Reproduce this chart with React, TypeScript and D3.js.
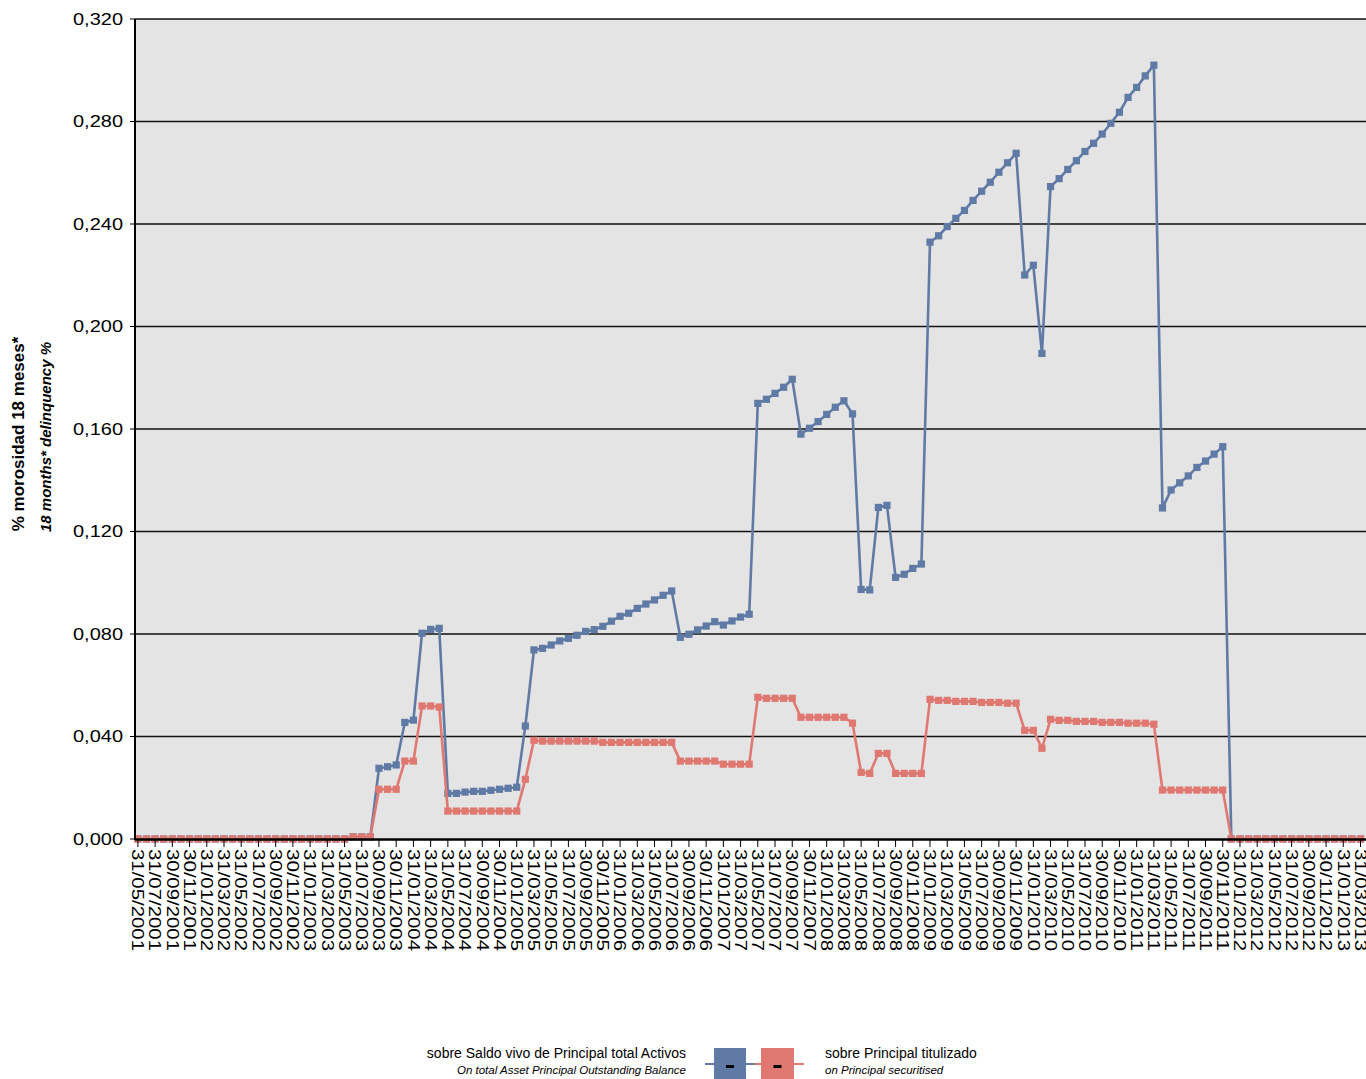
import React from "react";
import * as d3 from "d3";

// month-end reporting dates, one per point
const DATES = (
  "31/05/2001 30/06/2001 31/07/2001 31/08/2001 30/09/2001 31/10/2001 30/11/2001 31/12/2001 " +
  "31/01/2002 28/02/2002 31/03/2002 30/04/2002 31/05/2002 30/06/2002 31/07/2002 31/08/2002 30/09/2002 31/10/2002 30/11/2002 31/12/2002 " +
  "31/01/2003 28/02/2003 31/03/2003 30/04/2003 31/05/2003 30/06/2003 31/07/2003 31/08/2003 30/09/2003 31/10/2003 30/11/2003 31/12/2003 " +
  "31/01/2004 29/02/2004 31/03/2004 30/04/2004 31/05/2004 30/06/2004 31/07/2004 31/08/2004 30/09/2004 31/10/2004 30/11/2004 31/12/2004 " +
  "31/01/2005 28/02/2005 31/03/2005 30/04/2005 31/05/2005 30/06/2005 31/07/2005 31/08/2005 30/09/2005 31/10/2005 30/11/2005 31/12/2005 " +
  "31/01/2006 28/02/2006 31/03/2006 30/04/2006 31/05/2006 30/06/2006 31/07/2006 31/08/2006 30/09/2006 31/10/2006 30/11/2006 31/12/2006 " +
  "31/01/2007 28/02/2007 31/03/2007 30/04/2007 31/05/2007 30/06/2007 31/07/2007 31/08/2007 30/09/2007 31/10/2007 30/11/2007 31/12/2007 " +
  "31/01/2008 29/02/2008 31/03/2008 30/04/2008 31/05/2008 30/06/2008 31/07/2008 31/08/2008 30/09/2008 31/10/2008 30/11/2008 31/12/2008 " +
  "31/01/2009 28/02/2009 31/03/2009 30/04/2009 31/05/2009 30/06/2009 31/07/2009 31/08/2009 30/09/2009 31/10/2009 30/11/2009 31/12/2009 " +
  "31/01/2010 28/02/2010 31/03/2010 30/04/2010 31/05/2010 30/06/2010 31/07/2010 31/08/2010 30/09/2010 31/10/2010 30/11/2010 31/12/2010 " +
  "31/01/2011 28/02/2011 31/03/2011 30/04/2011 31/05/2011 30/06/2011 31/07/2011 31/08/2011 30/09/2011 31/10/2011 30/11/2011 31/12/2011 " +
  "31/01/2012 29/02/2012 31/03/2012 30/04/2012 31/05/2012 30/06/2012 31/07/2012 31/08/2012 30/09/2012 31/10/2012 30/11/2012 31/12/2012 " +
  "31/01/2013 28/02/2013 31/03/2013"
).split(" ");

// sobre Saldo vivo de Principal total Activos
const totalActivos = [
  0, 0, 0, 0, 0, 0, 0, 0, 0, 0, 0, 0, 0, 0, 0, 0, 0, 0, 0, 0, 0, 0, 0, 0, 0,
  0.0008, 0.0008, 0.0008,
  0.0276, 0.0282, 0.0289, 0.0455, 0.0464, 0.0803, 0.0818, 0.0822,
  0.0178, 0.0178, 0.0183, 0.0186, 0.0186, 0.019, 0.0194, 0.0198, 0.0202,
  0.0441, 0.0738, 0.0744, 0.0757, 0.0773, 0.0783, 0.0795, 0.081, 0.0817,
  0.083, 0.085, 0.0869, 0.0881, 0.09, 0.0917, 0.0933, 0.0951, 0.0968,
  0.0787, 0.0799, 0.0816, 0.0831, 0.0848, 0.0835, 0.0851, 0.0866, 0.0877,
  0.17, 0.1716, 0.1739, 0.1763, 0.1794, 0.158, 0.1603, 0.1629, 0.1657,
  0.1685, 0.171, 0.1659, 0.0974, 0.0972, 0.1294, 0.1302, 0.1021, 0.1033,
  0.1056, 0.1073, 0.2329, 0.2354, 0.239, 0.2422, 0.2453, 0.2492, 0.2528,
  0.2563, 0.2602, 0.2639, 0.2676, 0.2201, 0.2239, 0.1895, 0.2546, 0.2577,
  0.2613, 0.2647, 0.2683, 0.2715, 0.2751, 0.2793, 0.2836, 0.2894, 0.2933,
  0.2978, 0.302, 0.1292, 0.1362, 0.139, 0.1417, 0.145, 0.1475, 0.1502, 0.1531,
  0, 0, 0, 0, 0, 0, 0, 0, 0, 0, 0, 0, 0, 0, 0, 0,
];

// sobre Principal titulizado
const titulizado = [
  0, 0, 0, 0, 0, 0, 0, 0, 0, 0, 0, 0, 0, 0, 0, 0, 0, 0, 0, 0, 0, 0, 0, 0, 0,
  0.0008, 0.0008, 0.0008,
  0.0194, 0.0194, 0.0194, 0.0304, 0.0304, 0.0519, 0.0519, 0.0515,
  0.0109, 0.0109, 0.0109, 0.0109, 0.0109, 0.0109, 0.0109, 0.0109, 0.0109,
  0.0233, 0.0385, 0.0382, 0.0382, 0.0382, 0.0382, 0.0382, 0.0382, 0.0382,
  0.0377, 0.0377, 0.0377, 0.0377, 0.0377, 0.0377, 0.0377, 0.0377, 0.0377,
  0.0304, 0.0304, 0.0304, 0.0304, 0.0304, 0.0292, 0.0292, 0.0292, 0.0292,
  0.0553, 0.0549, 0.0549, 0.0549, 0.0549, 0.0475, 0.0475, 0.0475, 0.0475,
  0.0475, 0.0475, 0.0452, 0.026, 0.0256, 0.0334, 0.0334, 0.0256, 0.0256,
  0.0256, 0.0256, 0.0545, 0.0541, 0.0541, 0.0537, 0.0537, 0.0537, 0.0533,
  0.0533, 0.0533, 0.053, 0.053, 0.0424, 0.0424, 0.0354, 0.0467, 0.0463,
  0.0463, 0.0459, 0.0459, 0.0459, 0.0455, 0.0455, 0.0455, 0.0452, 0.0452,
  0.0452, 0.0448, 0.0191, 0.0191, 0.0191, 0.0191, 0.0191, 0.0191, 0.0191, 0.0191,
  0, 0, 0, 0, 0, 0, 0, 0, 0, 0, 0, 0, 0, 0, 0, 0,
];

const Y_TICKS = [0, 0.04, 0.08, 0.12, 0.16, 0.2, 0.24, 0.28, 0.32];

const BLUE = "#5f7aa5";
const RED = "#e07872";
const FONT = "'Liberation Sans', Arial, sans-serif";

const W = 1366;
const H = 1079;
const PLOT = { left: 135, top: 19, bottom: 839 };

export default function App() {
  const x = d3.scalePoint<string>().domain(DATES).range([137.9, 1360.5]);
  const y = d3.scaleLinear().domain([0, 0.32]).range([PLOT.bottom, PLOT.top]);
  const fmt = (v: number) => d3.format(".3f")(v).replace(".", ",");

  const line = d3
    .line<number>()
    .x((_, i) => x(DATES[i])!)
    .y((d) => y(d));

  const tickDates = DATES.filter((_, i) => i % 2 === 0);

  const series = [
    { values: totalActivos, color: BLUE },
    { values: titulizado, color: RED },
  ];

  return (
    <div style={{ position: "absolute", left: 0, top: 0 }}>
      <svg width={W} height={H} style={{ display: "block" }} fontFamily={FONT}>
        <rect x={PLOT.left} y={PLOT.top} width={W - PLOT.left} height={PLOT.bottom - PLOT.top} fill="#e4e4e4" />

        {Y_TICKS.filter((t) => t > 0).map((t) => (
          <line key={t} x1={PLOT.left} x2={W} y1={y(t)} y2={y(t)} stroke="#111" strokeWidth={1.6} />
        ))}

        {Y_TICKS.map((t) => (
          <g key={"yl" + t}>
            <line x1={PLOT.left - 5} x2={PLOT.left} y1={y(t)} y2={y(t)} stroke="#000" strokeWidth={1} />
            <text x={123} y={y(t)} dy="0.35em" textAnchor="end" fontSize={17} textLength={50} lengthAdjust="spacingAndGlyphs">
              {fmt(t)}
            </text>
          </g>
        ))}

        {series.map((s) => (
          <g key={s.color}>
            <path d={line(s.values) || ""} fill="none" stroke={s.color} strokeWidth={2.6} strokeLinejoin="round" />
            {s.values.map((v, i) => (
              <rect key={i} x={x(DATES[i])! - 3.6} y={y(v) - 3.6} width={7.2} height={7.2} fill={s.color} />
            ))}
          </g>
        ))}

        <line x1={PLOT.left} x2={PLOT.left} y1={PLOT.top} y2={PLOT.bottom + 1} stroke="#000" strokeWidth={2} />
        <line x1={PLOT.left} x2={W} y1={PLOT.bottom + 0.5} y2={PLOT.bottom + 0.5} stroke="#000" strokeWidth={2.5} />

        {tickDates.map((d) => (
          <g key={d} transform={`translate(${x(d)},0)`}>
            <line y1={PLOT.bottom + 1} y2={PLOT.bottom + 8} stroke="#000" strokeWidth={1} />
            <text
              transform={`translate(0,${PLOT.bottom + 10}) rotate(90)`}
              dy="0.36em"
              fontSize={16}
              textLength={102}
              lengthAdjust="spacingAndGlyphs"
            >
              {d}
            </text>
          </g>
        ))}

        <g transform="translate(24,434) rotate(-90)">
          <text textAnchor="middle" fontSize={17} fontWeight="bold">
            % morosidad 18 meses*
          </text>
        </g>
        <g transform="translate(51,437) rotate(-90)">
          <text textAnchor="middle" fontSize={15} fontWeight="bold" fontStyle="italic">
            18 months* delinquency %
          </text>
        </g>

        <g>
          <text x={686} y={1058} textAnchor="end" fontSize={14}>
            sobre Saldo vivo de Principal total Activos
          </text>
          <text x={686} y={1074} textAnchor="end" fontSize={11.5} fontStyle="italic">
            On total Asset Principal Outstanding Balance
          </text>
          <line x1={705} x2={754} y1={1064} y2={1064} stroke={BLUE} strokeWidth={2} />
          <line x1={754} x2={804} y1={1064} y2={1064} stroke={RED} strokeWidth={2} />
          <rect x={714} y={1048} width={32} height={32} fill={BLUE} />
          <rect x={761} y={1048} width={33} height={32} fill={RED} />
          <rect x={726} y={1065} width={8} height={3} fill="#000" />
          <rect x={773.5} y={1065} width={8} height={3} fill="#000" />
          <text x={825} y={1058} fontSize={14}>
            sobre Principal titulizado
          </text>
          <text x={825} y={1074} fontSize={11.5} fontStyle="italic">
            on Principal securitised
          </text>
        </g>
      </svg>
    </div>
  );
}
